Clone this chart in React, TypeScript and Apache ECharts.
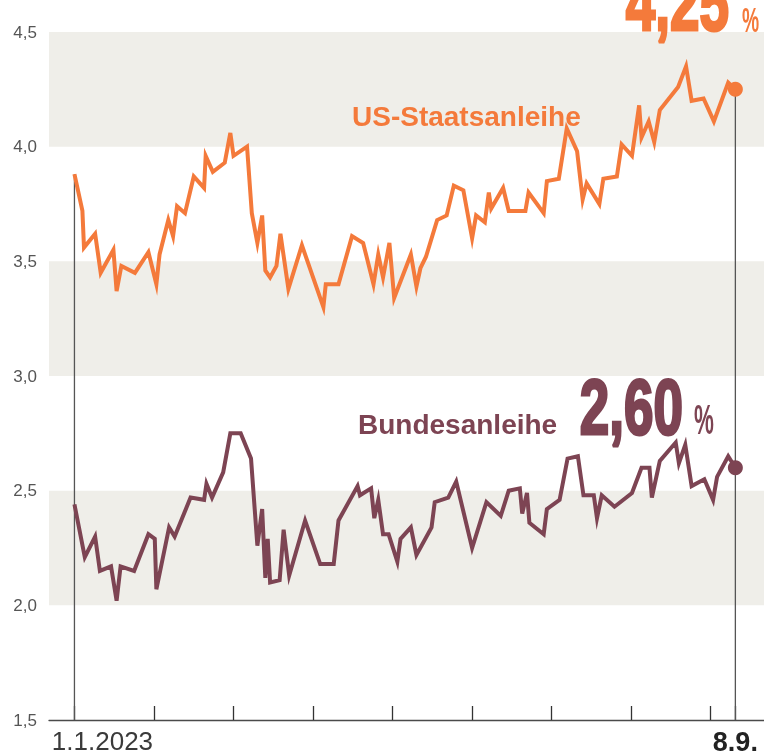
import React, { useEffect, useRef } from "react";
import * as echarts from "echarts";

// x in months since 1.1.2023 (0 = 1 Jan, 8 = 1 Sep); last point = 8 Sep
const usX = [0, 0.1, 0.12, 0.26, 0.33, 0.49, 0.53, 0.59, 0.76, 0.93, 1.03, 1.07, 1.18, 1.24, 1.29, 1.39, 1.5, 1.63, 1.65, 1.74, 1.89, 1.96, 2.0, 2.17, 2.23, 2.3, 2.36, 2.4, 2.46, 2.54, 2.59, 2.69, 2.86, 3.13, 3.16, 3.32, 3.49, 3.63, 3.76, 3.82, 3.88, 3.96, 4.02, 4.23, 4.3, 4.35, 4.42, 4.56, 4.68, 4.77, 4.89, 5.0, 5.05, 5.16, 5.21, 5.24, 5.39, 5.46, 5.67, 5.71, 5.9, 5.94, 6.09, 6.19, 6.32, 6.39, 6.44, 6.6, 6.65, 6.82, 6.88, 7.01, 7.1, 7.13, 7.22, 7.29, 7.36, 7.59, 7.69, 7.76, 7.91, 8.04, 8.22, 8.31];
const usY = [3.88, 3.72, 3.56, 3.62, 3.45, 3.55, 3.37, 3.48, 3.45, 3.54, 3.4, 3.53, 3.68, 3.61, 3.74, 3.71, 3.87, 3.82, 3.96, 3.89, 3.93, 4.06, 3.96, 4.0, 3.71, 3.58, 3.7, 3.46, 3.43, 3.48, 3.62, 3.38, 3.57, 3.3, 3.4, 3.4, 3.61, 3.58, 3.4, 3.53, 3.43, 3.58, 3.34, 3.53, 3.39, 3.47, 3.52, 3.68, 3.7, 3.83, 3.81, 3.6, 3.7, 3.67, 3.8, 3.73, 3.82, 3.72, 3.72, 3.8, 3.71, 3.85, 3.86, 4.08, 3.98, 3.77, 3.84, 3.75, 3.86, 3.87, 4.01, 3.96, 4.18, 4.04, 4.11, 4.02, 4.16, 4.26, 4.35, 4.2, 4.21, 4.11, 4.28, 4.25];

const deX = [0, 0.13, 0.26, 0.32, 0.46, 0.53, 0.58, 0.75, 0.93, 1.01, 1.03, 1.19, 1.26, 1.46, 1.63, 1.66, 1.73, 1.87, 1.96, 2.09, 2.22, 2.3, 2.36, 2.4, 2.43, 2.46, 2.58, 2.63, 2.7, 2.9, 3.09, 3.26, 3.32, 3.56, 3.59, 3.73, 3.77, 3.82, 3.88, 3.95, 4.06, 4.1, 4.23, 4.3, 4.49, 4.53, 4.7, 4.8, 5.0, 5.18, 5.36, 5.46, 5.6, 5.63, 5.69, 5.72, 5.9, 5.94, 6.1, 6.2, 6.33, 6.4, 6.53, 6.57, 6.63, 6.79, 7.01, 7.13, 7.23, 7.26, 7.36, 7.56, 7.6, 7.68, 7.76, 7.92, 8.03, 8.08, 8.22, 8.31];
const deY = [2.44, 2.21, 2.3, 2.15, 2.17, 2.02, 2.17, 2.15, 2.31, 2.29, 2.07, 2.34, 2.3, 2.47, 2.46, 2.53, 2.47, 2.58, 2.75, 2.75, 2.64, 2.26, 2.42, 2.12, 2.29, 2.1, 2.11, 2.33, 2.13, 2.37, 2.18, 2.18, 2.37, 2.52, 2.48, 2.51, 2.38, 2.46, 2.31, 2.31, 2.19, 2.29, 2.34, 2.22, 2.34, 2.45, 2.47, 2.54, 2.25, 2.45, 2.39, 2.5, 2.51, 2.4, 2.49, 2.36, 2.31, 2.42, 2.46, 2.64, 2.65, 2.48, 2.48, 2.38, 2.48, 2.43, 2.49, 2.6, 2.6, 2.47, 2.63, 2.71, 2.62, 2.7, 2.52, 2.55, 2.46, 2.56, 2.65, 2.6];

const monthTicks = [0, 1, 2, 3, 4, 5, 6, 7, 8];
const startLabel = "1.1.2023";
const endLabel = "8.9.";
const yBands = [[2.0, 2.5], [3.0, 3.5], [4.0, 4.5]];
const seriesNames = ["US-Staatsanleihe", "Bundesanleihe"];

const ORANGE = "#f47a3b";
const MAROON = "#7d4453";
const BAND = "#efeee9";
const AXIS = "#4a4a4a";

const pairs = (xs: number[], ys: number[]) => xs.map((x, i) => [x, ys[i]]);
const fmt = (v: number) => v.toFixed(2).replace(".", ",");

export default function App() {
  const ref = useRef<HTMLDivElement>(null);
  useEffect(() => {
    if (!ref.current) return;
    const chart = echarts.init(ref.current, undefined, { renderer: "svg" });
    const endX = usX[usX.length - 1];
    const usLast = usY[usY.length - 1];
    const deLast = deY[deY.length - 1];
    const bigFont = "Liberation Sans";
    chart.setOption({
      animation: false,
      grid: { left: 49, right: 0, top: 32, bottom: 36, outerBoundsMode: "none" },
      xAxis: {
        type: "value",
        min: -0.32,
        max: 8.67,
        splitLine: { show: false },
        axisLine: { show: true, lineStyle: { color: AXIS, width: 1.3 } },
        axisTick: {
          show: true,
          inside: true,
          length: 14,
          customValues: [...monthTicks, endX],
          lineStyle: { color: "#333", width: 1.3 },
        },
        axisLabel: {
          show: true,
          customValues: [0, endX],
          margin: 8,
          formatter: (v: number) => (Math.abs(v) < 1e-6 ? `{a|${startLabel}}` : `{b|${endLabel}}`),
          rich: {
            a: { fontFamily: "Liberation Sans", fontSize: 26, color: "#3a3a3a", padding: [0, 0, 0, 56] },
            b: { fontFamily: "Liberation Sans", fontSize: 27, fontWeight: "bold", color: "#222" },
          },
        },
      },
      yAxis: {
        type: "value",
        min: 1.5,
        max: 4.5,
        interval: 0.5,
        splitLine: { show: false },
        axisLine: { show: false },
        axisTick: { show: false },
        axisLabel: {
          margin: 12,
          fontFamily: "Liberation Sans",
          fontSize: 17,
          color: "#555",
          formatter: (v: number) => v.toFixed(1).replace(".", ","),
        },
      },
      series: [
        {
          type: "line",
          name: "bands",
          data: [],
          z: 0,
          silent: true,
          markArea: {
            silent: true,
            itemStyle: { color: BAND },
            data: yBands.map(([a, b]) => [{ yAxis: a }, { yAxis: b }]),
          },
        },
        {
          type: "line",
          name: "drop-start",
          data: [[0, usY[0]], [0, 1.5]],
          symbol: "none",
          z: 1,
          silent: true,
          lineStyle: { color: "#555", width: 1.3 },
        },
        {
          type: "line",
          name: "drop-end",
          data: [[endX, usLast], [endX, 1.5]],
          symbol: "none",
          z: 1,
          silent: true,
          lineStyle: { color: "#555", width: 1.3 },
        },
        {
          type: "line",
          name: seriesNames[0],
          data: pairs(usX, usY),
          symbol: "none",
          z: 3,
          lineStyle: { color: ORANGE, width: 4, join: "miter", miterLimit: 6 },
        },
        {
          type: "line",
          name: seriesNames[1],
          data: pairs(deX, deY),
          symbol: "none",
          z: 3,
          lineStyle: { color: MAROON, width: 4, join: "miter", miterLimit: 6 },
        },
        {
          type: "scatter",
          data: [{ value: [endX, usLast], itemStyle: { color: ORANGE, opacity: 1 } }, { value: [endX, deLast], itemStyle: { color: MAROON, opacity: 1 } }],
          symbolSize: 15,
          itemStyle: { opacity: 1 },
          z: 4,
          silent: true,
        },
      ],
      graphic: [
        {
          type: "text",
          x: 352,
          y: 116.3,
          z: 20,
          style: { text: seriesNames[0], fontFamily: "Liberation Sans", fontSize: 28, fontWeight: "bold", fill: ORANGE, align: "left", verticalAlign: "middle" },
        },
        {
          type: "text",
          x: 358,
          y: 424.3,
          z: 20,
          style: { text: seriesNames[1], fontFamily: "Liberation Sans", fontSize: 28, fontWeight: "bold", fill: MAROON, align: "left", verticalAlign: "middle" },
        },
        {
          type: "text",
          x: 729,
          y: 3,
          z: 20,
          scaleX: 0.68,
          style: { text: fmt(usLast), fontFamily: bigFont, fontSize: 78, fontWeight: "bold", fill: ORANGE, stroke: ORANGE, lineWidth: 3, align: "right", verticalAlign: "middle" },
        },
        {
          type: "text",
          x: 742,
          y: 19.9,
          z: 20,
          scaleX: 0.55,
          style: { text: "%", fontFamily: bigFont, fontSize: 35, fontWeight: "bold", fill: ORANGE, align: "left", verticalAlign: "middle" },
        },
        {
          type: "text",
          x: 683,
          y: 407,
          z: 20,
          scaleX: 0.68,
          style: { text: fmt(deLast), fontFamily: bigFont, fontSize: 78, fontWeight: "bold", fill: MAROON, stroke: MAROON, lineWidth: 3, align: "right", verticalAlign: "middle" },
        },
        {
          type: "text",
          x: 694,
          y: 419.1,
          z: 20,
          scaleX: 0.52,
          style: { text: "%", fontFamily: bigFont, fontSize: 43, fontWeight: "bold", fill: MAROON, align: "left", verticalAlign: "middle" },
        },
      ],
    });
    return () => chart.dispose();
  }, []);
  return <div ref={ref} style={{ position: "fixed", left: 0, top: 0, width: 764, height: 756 }} />;
}
